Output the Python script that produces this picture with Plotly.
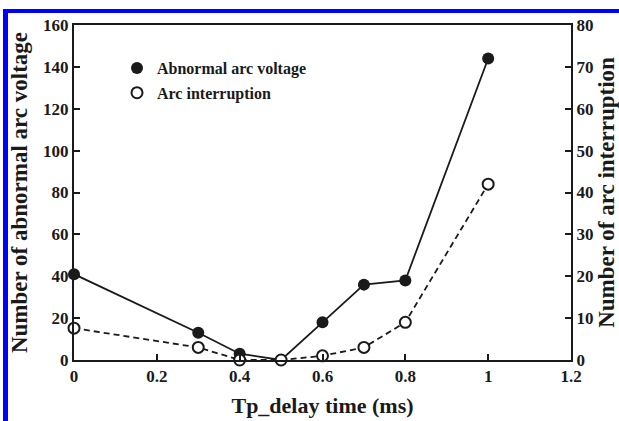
import plotly.graph_objects as go

delay_ms = [0, 0.3, 0.4, 0.5, 0.6, 0.7, 0.8, 1.0]
abnormal_arc_voltage = [41, 13, 3, 0, 18, 36, 38, 144]
arc_interruption = [7.6, 3, 0, 0, 1, 3, 9, 42]

series_names = ["Abnormal arc voltage", "Arc interruption"]
x_title = "Tp_delay time (ms)"
y_title = "Number of abnormal arc voltage"
y2_title = "Number of arc interruption"

FONT = "Liberation Serif"
INK = "#1a1a1a"

fig = go.Figure()
fig.add_trace(go.Scatter(
    x=delay_ms, y=abnormal_arc_voltage, mode="lines+markers",
    line=dict(color=INK, width=1.8),
    marker=dict(symbol="circle", size=12, color=INK),
    showlegend=False, yaxis="y", cliponaxis=False))
fig.add_trace(go.Scatter(
    x=delay_ms, y=arc_interruption, mode="lines+markers",
    line=dict(color=INK, width=1.8, dash="6px,4px"),
    marker=dict(symbol="circle", size=11, color="white", line=dict(color=INK, width=2)),
    showlegend=False, yaxis="y2", cliponaxis=False))
# legend entries (marker only)
fig.add_trace(go.Scatter(
    x=[None], y=[None], mode="markers", name=series_names[0],
    marker=dict(symbol="circle", size=12, color=INK), legendgroup="a"))
fig.add_trace(go.Scatter(
    x=[None], y=[None], mode="markers", name=series_names[1],
    marker=dict(symbol="circle", size=11, color="white", line=dict(color=INK, width=2)),
    legendgroup="b"))

L, R, T, B = 74, 48, 25, 61
W, H = 619, 421
pw, ph = W - L - R, H - T - B

def px(xp):
    return (xp - L) / pw

def py(yp):
    return (H - B - yp) / ph

tickfont = dict(family=FONT, size=17, color=INK, weight="bold")
xtitlefont = dict(family=FONT, size=22, color=INK, weight="bold")
ytitlefont = dict(family=FONT, size=23, color=INK, weight="bold")

fig.update_layout(
    width=W, height=H,
    margin=dict(l=L, r=R, t=T, b=B, autoexpand=False),
    paper_bgcolor="white", plot_bgcolor="white",
    font=dict(family=FONT, color=INK),
    xaxis=dict(range=[0, 1.2], dtick=0.2, showgrid=False, zeroline=False,
               showline=True, linecolor=INK, linewidth=2, mirror=True,
               ticks="inside", ticklen=6, tickwidth=1.5, tickcolor=INK,
               tickfont=tickfont, automargin=False,
               title=dict(text=x_title, font=xtitlefont, standoff=12)),
    yaxis=dict(range=[0, 160], dtick=20, showgrid=False, zeroline=False,
               showline=True, linecolor=INK, linewidth=2,
               ticks="inside", ticklen=6, tickwidth=1.5, tickcolor=INK,
               tickfont=tickfont, automargin=False,
               title=dict(text=y_title, font=ytitlefont, standoff=9)),
    yaxis2=dict(range=[0, 80], dtick=10, overlaying="y", side="right",
                showgrid=False, zeroline=False,
                showline=True, linecolor=INK, linewidth=2,
                ticks="inside", ticklen=6, tickwidth=1.5, tickcolor=INK,
                tickfont=tickfont, automargin=False,
                title=dict(text=y2_title, font=ytitlefont, standoff=16)),
    legend=dict(x=px(117), y=py(51), xanchor="left", yanchor="top",
                bgcolor="rgba(0,0,0,0)", borderwidth=0,
                font=dict(family=FONT, size=16, color=INK, weight="bold"),
                itemwidth=30, tracegroupgap=1),
    shapes=[
        dict(type="rect", xref="paper", yref="paper",
             x0=px(3), x1=px(620), y0=py(13), y1=py(9),
             fillcolor="#0000ff", line=dict(width=0), layer="above"),
        dict(type="rect", xref="paper", yref="paper",
             x0=px(3), x1=px(8), y0=py(422), y1=py(9),
             fillcolor="#0000ff", line=dict(width=0), layer="above"),
    ],
)

fig.write_html("out.html")
